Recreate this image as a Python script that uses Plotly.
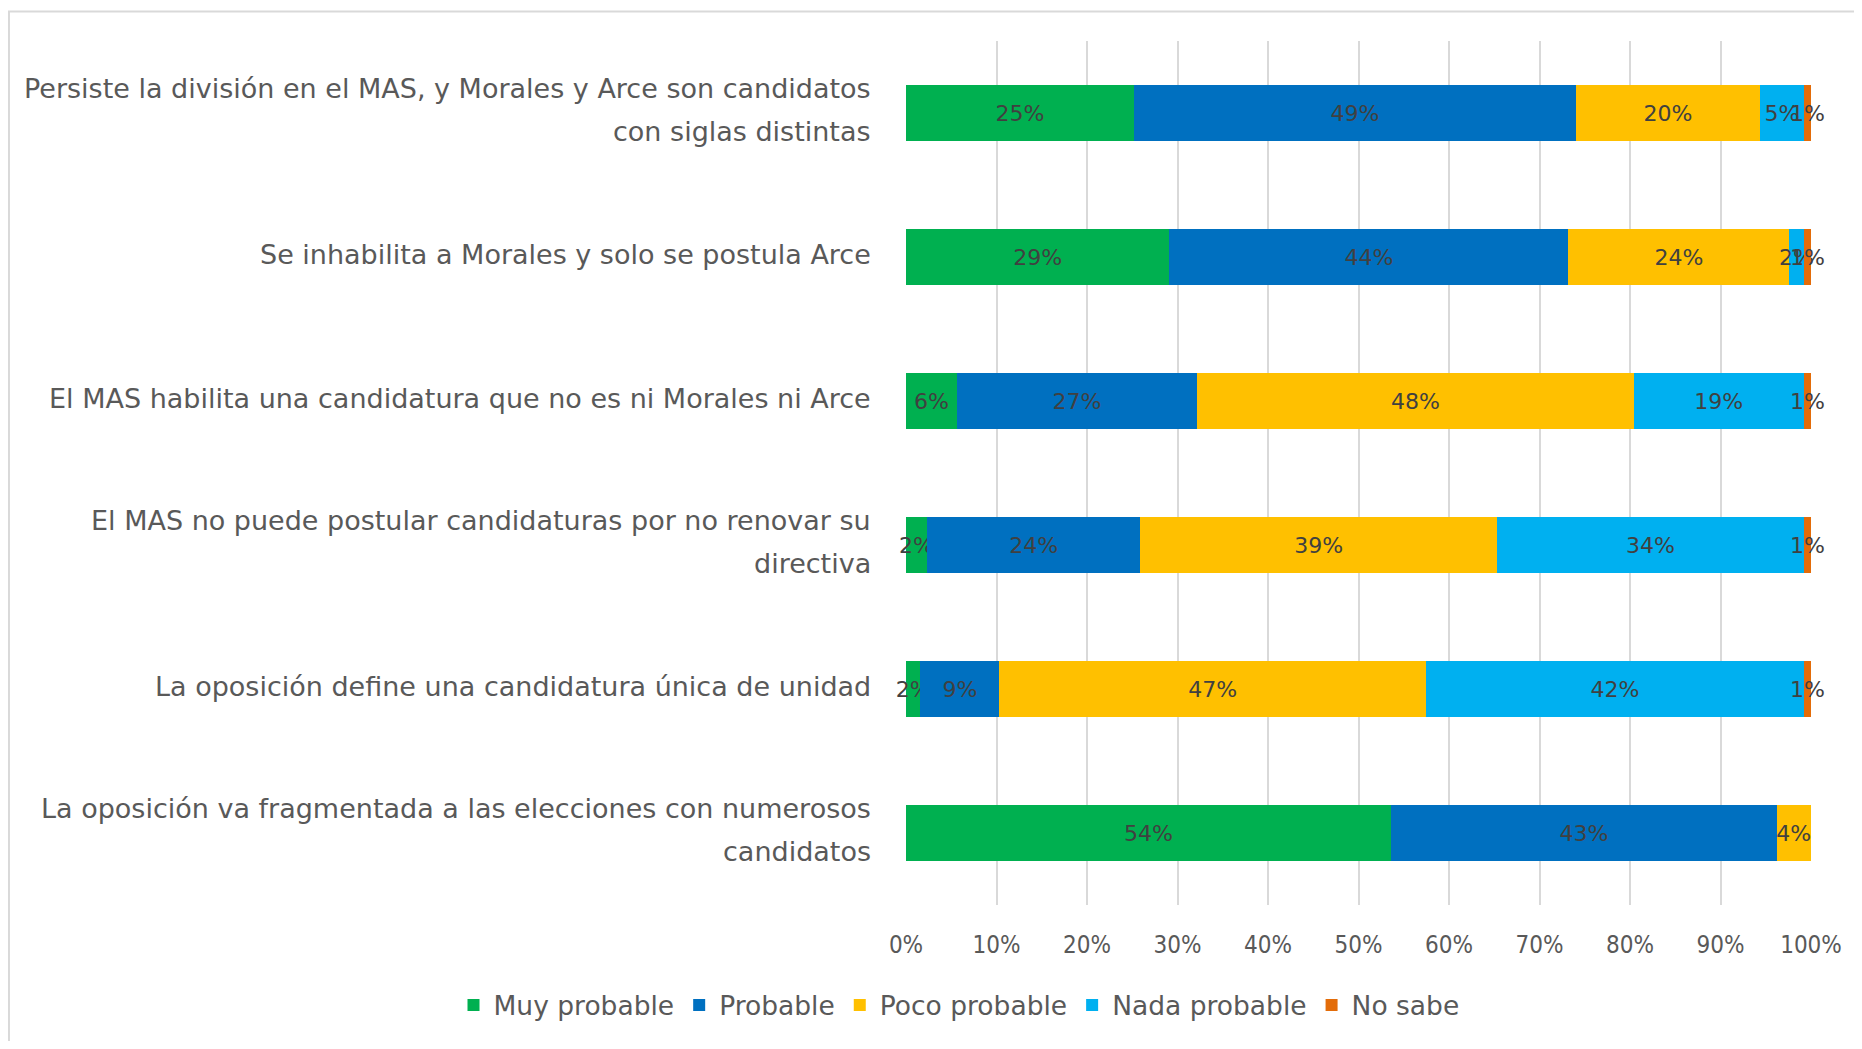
import plotly.graph_objects as go

categories = [
    "Persiste la división en el MAS, y Morales y Arce son candidatos<br>con siglas distintas",
    "Se inhabilita a Morales y solo se postula Arce",
    "El MAS habilita una candidatura que no es ni Morales ni Arce",
    "El MAS no puede postular candidaturas por no renovar su<br>directiva",
    "La oposición define una candidatura única de unidad",
    "La oposición va fragmentada a las elecciones con numerosos<br>candidatos",
]

series_names = ["Muy probable", "Probable", "Poco probable", "Nada probable", "No sabe"]
muy_probable = [25.2, 29.1, 5.6, 2.3, 1.6, 53.6]
probable = [48.8, 44.1, 26.6, 23.6, 8.7, 42.6]
poco_probable = [20.4, 24.4, 48.2, 39.4, 47.2, 3.8]
nada_probable = [4.8, 1.6, 18.8, 33.9, 41.7, None]
no_sabe = [0.8, 0.8, 0.8, 0.8, 0.8, None]

colors = ["#00B050", "#0070C0", "#FFC000", "#00B0F0", "#E36C09"]
tick_vals = [0, 10, 20, 30, 40, 50, 60, 70, 80, 90, 100]
tick_text = ["0%", "10%", "20%", "30%", "40%", "50%", "60%", "70%", "80%", "90%", "100%"]

FONT = "DejaVu Sans, Verdana, sans-serif"
FONT_COND = "DejaVu Sans Condensed, DejaVu Sans, sans-serif"

fig = go.Figure()
for name, vals, col in zip(series_names,
                           [muy_probable, probable, poco_probable, nada_probable, no_sabe],
                           colors):
    fig.add_trace(go.Bar(
        name=name, y=categories, x=vals, orientation="h",
        marker=dict(color=col, line=dict(width=0)),
        texttemplate="%{x:.0f}%", textposition="inside", insidetextanchor="middle",
        textangle=0, cliponaxis=False,
        insidetextfont=dict(color="#404040", size=22, family=FONT),
        hoverinfo="skip",
    ))

annotations = []
for cat in categories:
    lines = cat.split("<br>")
    n = len(lines)
    for i, line in enumerate(lines):
        shift = ((n - 1) / 2 - i) * 43 + 3
        annotations.append(dict(
            text=line, x=0, xref="paper", y=cat, yref="y", xanchor="right",
            yanchor="middle", xshift=-33, yshift=shift, showarrow=False,
            font=dict(size=27, color="#595959", family=FONT),
        ))

fig.update_layout(
    width=1846, height=1033, autosize=False,
    barmode="stack", bargap=0.605,
    plot_bgcolor="white", paper_bgcolor="white",
    margin=dict(l=898, r=36, t=33, b=134),
    font=dict(family=FONT, color="#595959"),
    uniformtext=dict(minsize=22, mode="show"),
    xaxis=dict(range=[0, 100], tickvals=tick_vals, ticktext=tick_text,
               showgrid=True, gridcolor="#D9D9D9", gridwidth=2, zeroline=False,
               showline=False, ticks="", ticklabelstandoff=23,
               tickfont=dict(size=24, color="#595959", family=FONT_COND), fixedrange=True),
    yaxis=dict(autorange="reversed", showticklabels=False, showgrid=False,
               zeroline=False, showline=False, ticks="", fixedrange=True),
    legend=dict(orientation="h", xref="paper", x=-0.50, xanchor="left",
                yref="paper", y=-0.116, yanchor="middle",
                font=dict(size=26.5, color="#595959", family=FONT),
                traceorder="normal", itemsizing="constant"),
    annotations=annotations,
    shapes=[dict(type="rect", xref="paper", yref="paper",
                 x0=-0.9912, x1=1.2, y0=-0.3, y1=1.034,
                 line=dict(color="#D9D9D9", width=2), fillcolor="rgba(0,0,0,0)", layer="below")],
)

fig.write_html("out.html")
